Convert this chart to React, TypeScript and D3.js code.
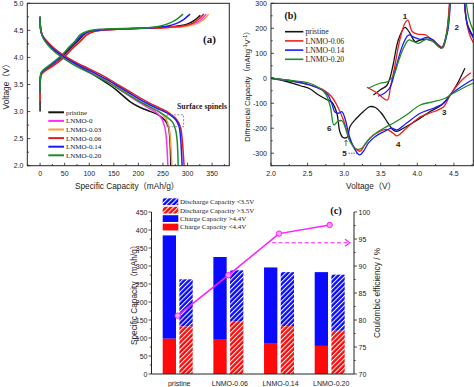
import React from 'react';
import * as d3 from 'd3';

type P = [number, number];

// ---------- Panel (a): voltage profiles ----------
const aNames = ['pristine', 'LNMO-0', 'LNMO-0.03', 'LNMO-0.06', 'LNMO-0.14', 'LNMO-0.20'];
const aColors = ['#141414', '#ff2cff', '#ff9a3c', '#e61e1e', '#1a1aff', '#1f8c2a'];
const chargePristine: P[] = [[0,3.0],[0,3.3],[0.5,3.6],[2,3.69],[8,3.75],[25,3.85],[45,4.0],[65,4.2],[77,4.3],[90,4.42],[105,4.48],[130,4.51],[180,4.53],[240,4.55],[280,4.58],[303,4.63],[316,4.7],[326,4.78]];
const chargeL0: P[] = [[0,3.2],[0.5,3.6],[2,3.68],[8,3.74],[25,3.84],[45,3.98],[66,4.18],[80,4.3],[93,4.42],[107,4.48],[130,4.51],[180,4.53],[250,4.55],[295,4.58],[315,4.63],[328,4.7],[338,4.8]];
const chargeL003: P[] = [[0,3.2],[0.5,3.58],[2,3.67],[8,3.73],[25,3.83],[45,3.97],[67,4.17],[82,4.3],[95,4.42],[110,4.48],[135,4.51],[185,4.53],[255,4.55],[300,4.58],[320,4.63],[333,4.7],[343,4.8]];
const chargeL006: P[] = [[0,3.2],[0.5,3.6],[2,3.68],[8,3.74],[25,3.84],[45,3.97],[66,4.17],[82,4.3],[96,4.42],[110,4.48],[135,4.51],[185,4.53],[250,4.55],[290,4.58],[310,4.63],[322,4.7],[333,4.8]];
const chargeL014: P[] = [[0,3.35],[0.5,3.6],[2,3.7],[8,3.77],[25,3.88],[45,4.03],[62,4.2],[74,4.3],[86,4.42],[100,4.48],[125,4.51],[170,4.53],[230,4.55],[260,4.58],[278,4.63],[292,4.7],[305,4.8]];
const chargeL020: P[] = [[0,3.35],[0.5,3.6],[2,3.72],[8,3.78],[25,3.9],[45,4.05],[60,4.2],[71,4.3],[82,4.42],[95,4.48],[120,4.52],[170,4.535],[220,4.55],[245,4.58],[262,4.63],[277,4.7],[291,4.8]];
const dischPristine: P[] = [[0,4.75],[1.5,4.5],[6,4.38],[15,4.27],[30,4.14],[50,4.0],[75,3.86],[100,3.73],[120,3.62],[140,3.5],[155,3.4],[168,3.3],[185,3.17],[205,3.07],[225,3.0],[242,2.93],[254,2.84],[261,2.72],[264,2.5],[266,2.0]];
const dischL0: P[] = [[0,4.75],[1.5,4.5],[6,4.38],[15,4.27],[30,4.14],[50,4.0],[75,3.87],[100,3.75],[120,3.65],[140,3.54],[160,3.42],[180,3.3],[200,3.18],[220,3.07],[238,2.97],[248,2.86],[254,2.7],[257,2.5],[260,2.0]];
const dischL003: P[] = [[0,4.75],[1.5,4.5],[6,4.38],[15,4.27],[30,4.14],[50,4.0],[75,3.87],[100,3.76],[120,3.66],[140,3.56],[160,3.44],[180,3.32],[200,3.2],[222,3.09],[242,3.0],[255,2.88],[262,2.72],[265,2.5],[268,2.0]];
const dischL006: P[] = [[0,4.75],[1.5,4.5],[6,4.39],[15,4.29],[30,4.16],[50,4.03],[75,3.9],[100,3.79],[120,3.7],[140,3.6],[160,3.49],[180,3.38],[200,3.27],[222,3.16],[245,3.06],[265,2.96],[279,2.84],[286,2.7],[289,2.5],[293,2.0]];
const dischL014: P[] = [[0,4.75],[1.5,4.5],[6,4.37],[15,4.26],[30,4.13],[50,4.0],[75,3.87],[100,3.76],[120,3.67],[140,3.57],[160,3.46],[180,3.35],[200,3.24],[222,3.13],[245,3.03],[263,2.95],[276,2.85],[283,2.72],[286,2.5],[289,2.0]];
const dischL020: P[] = [[0,4.75],[1.5,4.5],[6,4.36],[15,4.24],[30,4.1],[50,3.97],[75,3.83],[100,3.72],[120,3.63],[140,3.53],[160,3.42],[180,3.31],[200,3.2],[222,3.09],[243,2.99],[258,2.9],[270,2.8],[276,2.65],[279,2.45],[281,2.0]];
const aCharge = [chargePristine, chargeL0, chargeL003, chargeL006, chargeL014, chargeL020];
const aDisch = [dischPristine, dischL0, dischL003, dischL006, dischL014, dischL020];
const aXTicks = [0, 50, 100, 150, 200, 250, 300, 350];
const aYTicks = [2.0, 2.5, 3.0, 3.5, 4.0, 4.5, 5.0];

// ---------- Panel (b): dQ/dV ----------
const bNames = ['pristine', 'LNMO-0.06', 'LNMO-0.14', 'LNMO-0.20'];
const bColors = ['#141414', '#f01e1e', '#1a1aff', '#1f8c2a'];
const dqdvDisPristine: P[] = [[2.0,0],[2.2,-12],[2.4,-30],[2.53,-42],[2.64,-65],[2.76,-85],[2.83,-95],[2.9,-140],[2.94,-213],[2.98,-236],[3.04,-236],[3.08,-193],[3.17,-160],[3.26,-134],[3.35,-114],[3.42,-116],[3.51,-140],[3.6,-180],[3.67,-207],[3.72,-213],[3.81,-200],[4.0,-167],[4.17,-134],[4.33,-107],[4.45,-67],[4.55,-20],[4.65,40]];
const dqdvDis006: P[] = [[2.0,0],[2.3,-12],[2.53,-27],[2.72,-47],[2.83,-74],[2.91,-113],[2.99,-167],[3.08,-247],[3.15,-280],[3.22,-292],[3.28,-267],[3.35,-240],[3.44,-220],[3.58,-205],[3.67,-220],[3.72,-231],[3.85,-200],[4.04,-154],[4.22,-134],[4.36,-114],[4.45,-67],[4.6,-10],[4.73,22]];
const dqdvDis014: P[] = [[2.0,0],[2.3,-12],[2.53,-27],[2.76,-60],[2.83,-100],[2.87,-134],[2.92,-140],[2.97,-134],[3.01,-160],[3.08,-240],[3.15,-287],[3.21,-307],[3.26,-294],[3.33,-260],[3.42,-234],[3.54,-214],[3.65,-200],[3.72,-207],[3.85,-180],[4.04,-140],[4.22,-120],[4.36,-100],[4.45,-67],[4.62,-30],[4.76,-5]];
const dqdvDis020: P[] = [[2.0,0],[2.3,-10],[2.53,-20],[2.74,-60],[2.81,-113],[2.86,-187],[2.91,-173],[2.97,-170],[3.01,-193],[3.08,-254],[3.17,-284],[3.24,-280],[3.31,-254],[3.4,-227],[3.54,-200],[3.67,-180],[3.85,-147],[4.04,-107],[4.22,-94],[4.38,-80],[4.45,-67],[4.62,-40],[4.76,-20]];
const dqdvChgPristine: P[] = [[3.4,-67],[3.5,-45],[3.58,-30],[3.62,-5],[3.67,55],[3.74,153],[3.83,204],[3.9,180],[3.97,147],[4.04,153],[4.13,156],[4.22,147],[4.33,122],[4.4,180],[4.45,330],[4.52,600],[4.58,640],[4.63,360],[4.68,220],[4.77,164]];
const dqdvChg006: P[] = [[3.31,-36],[3.44,-57],[3.59,-87],[3.63,-40],[3.69,46],[3.76,153],[3.83,220],[3.87,233],[3.93,187],[4.0,177],[4.12,173],[4.17,160],[4.29,133],[4.35,122],[4.4,180],[4.45,340],[4.52,620],[4.58,650],[4.63,370],[4.67,233],[4.72,170],[4.77,140]];
const dqdvChg014: P[] = [[3.46,-72],[3.55,-60],[3.62,-40],[3.67,0],[3.71,46],[3.81,140],[3.88,173],[3.95,165],[4.04,156],[4.13,164],[4.22,153],[4.33,122],[4.41,180],[4.46,340],[4.52,600],[4.58,640],[4.63,370],[4.69,206],[4.77,160]];
const dqdvChg020: P[] = [[3.33,-40],[3.49,-20],[3.6,-13],[3.68,13],[3.74,66],[3.81,120],[3.88,153],[3.95,147],[4.02,140],[4.12,156],[4.2,150],[4.33,120],[4.41,193],[4.46,360],[4.52,620],[4.58,660],[4.64,380],[4.7,246],[4.77,187]];
const bDis = [dqdvDisPristine, dqdvDis006, dqdvDis014, dqdvDis020];
const bChg = [dqdvChgPristine, dqdvChg006, dqdvChg014, dqdvChg020];
const bXTicks = [2.0, 2.5, 3.0, 3.5, 4.0, 4.5];
const bYTicks = [-300, -200, -100, 0, 100, 200, 300];

// ---------- Panel (c): capacities & efficiency ----------
const cCategories = ['pristine', 'LNMO-0.06', 'LNMO-0.14', 'LNMO-0.20'];
const chargeBelow44 = [98, 95, 84, 78];
const chargeTotal = [385, 325, 296, 283];
const dischargeAbove35 = [132, 147, 133, 120];
const dischargeTotal = [263, 288, 283, 276];
const coulombicEff = [80.8, 88.3, 96.0, 97.6];
const cYTicks = [0, 50, 100, 150, 200, 250, 300, 350, 400, 450];
const cY2Ticks = [70, 75, 80, 85, 90, 95, 100];
const cLegend = ['Discharge Capacity <3.5V', 'Discharge Capacity >3.5V', 'Charge Capacity >4.4V', 'Charge Capacity <4.4V'];

const SANS = "'Liberation Sans', Arial, 'Noto Sans CJK SC', sans-serif";
const SERIF = "'Liberation Serif', 'Times New Roman', serif";
const BLUE = '#0a0aff';
const RED = '#ff0a0a';
const MAG = '#ff1eff';

export default function App() {
  // frames
  const A = { l: 27.3, r: 229.3, t: 3.3, b: 165.7 };
  const B = { l: 271, r: 473.3, t: 3.3, b: 165.7 };
  const C = { l: 151.5, r: 354, t: 212, b: 374 };

  const ax = d3.scaleLinear().domain([-26, 385]).range([A.l, A.r]);
  const ay = d3.scaleLinear().domain([2, 5]).range([A.b, A.t]);
  const bx = d3.scaleLinear().domain([2, 4.765]).range([B.l, B.r]);
  const by = d3.scaleLinear().domain([-350, 300]).range([B.b, B.t]);
  const cx = d3.scalePoint<string>().domain(cCategories).range([177.7, 329.7]);
  const cy = d3.scaleLinear().domain([0, 450]).range([C.b, C.t]);
  const cy2 = d3.scaleLinear().domain([70, 100]).range([C.b, C.t]);

  const aLine = d3.line<P>().x(d => ax(d[0])).y(d => ay(d[1])).curve(d3.curveCatmullRom.alpha(0.5));
  const bLine = d3.line<P>().x(d => bx(d[0])).y(d => by(d[1])).curve(d3.curveCatmullRom.alpha(0.5));
  const effLine = d3.line<number>().x((_, i) => cx(cCategories[i]) as number).y(d => cy2(d));

  const aMinorX = d3.range(-25, 386, 25);
  const aMinorY = d3.range(2, 5.01, 0.25);
  const bMinorX = d3.range(2, 4.76, 0.25);
  const bMinorY = d3.range(-350, 301, 50);
  const cMinorY = d3.range(0, 451, 25);
  const cMinorY2 = d3.range(70, 100.1, 2.5);

  const tickFont = { fontFamily: SANS, fontSize: 7, fill: '#222' };
  const titleFont = { fontFamily: SANS, fontSize: 8.3, fill: '#222' };

  const barW = 13.3;

  return (
    <svg width={474} height={387} style={{ position: 'absolute', left: 0, top: 0, background: '#fff' }}>
      <defs>
        <clipPath id="clipA"><rect x={A.l} y={A.t} width={A.r - A.l} height={A.b - A.t} /></clipPath>
        <clipPath id="clipB"><rect x={B.l} y={B.t} width={B.r - B.l} height={B.b - B.t} /></clipPath>
        <pattern id="hatchBlue" patternUnits="userSpaceOnUse" width={3.4} height={3.4} patternTransform="rotate(45)">
          <rect width={3.4} height={3.4} fill={BLUE} />
          <line x1={0.5} y1={0} x2={0.5} y2={3.4} stroke="#fff" strokeWidth={1} />
        </pattern>
        <pattern id="hatchRed" patternUnits="userSpaceOnUse" width={3.4} height={3.4} patternTransform="rotate(45)">
          <rect width={3.4} height={3.4} fill={RED} />
          <line x1={0.5} y1={0} x2={0.5} y2={3.4} stroke="#fff" strokeWidth={1} />
        </pattern>
      </defs>

      {/* ================= Panel (a) ================= */}
      <g>
        <g clipPath="url(#clipA)">
          {aCharge.map((s, i) => (
            <path key={'ac' + i} d={aLine(s) || ''} fill="none" stroke={aColors[i]} strokeWidth={1.5} />
          ))}
          {aDisch.map((s, i) => (
            <path key={'ad' + i} d={aLine(s) || ''} fill="none" stroke={aColors[i]} strokeWidth={1.5} />
          ))}
        </g>
        {/* dashed box */}
        <rect x={ax(258)} y={ay(2.94)} width={ax(292) - ax(258)} height={ay(2.72) - ay(2.94)} fill="none" stroke="#6f6f9f" strokeWidth={0.8} strokeDasharray="2,1.5" />
        <text x={177} y={109.3} textAnchor="start" style={{ fontFamily: SERIF, fontSize: 7.8, fontWeight: 'bold', fill: '#222' }}>Surface spinels</text>
        <rect x={A.l} y={A.t} width={A.r - A.l} height={A.b - A.t} fill="none" stroke="#222" strokeWidth={1} />
        {aMinorX.map(v => <line key={'amx' + v} x1={ax(v)} x2={ax(v)} y1={A.b} y2={A.b - (v % 50 === 0 ? 3 : 1.7)} stroke="#222" strokeWidth={0.8} />)}
        {aMinorY.map(v => <line key={'amy' + v} x1={A.l} x2={A.l + (Math.abs((v * 2) % 1) < 1e-6 ? 3 : 1.7)} y1={ay(v)} y2={ay(v)} stroke="#222" strokeWidth={0.8} />)}
        {aXTicks.map(v => <text key={'axt' + v} x={ax(v)} y={175.5} textAnchor="middle" style={tickFont}>{v}</text>)}
        {aYTicks.map(v => <text key={'ayt' + v} x={23.5} y={ay(v) + 2.5} textAnchor="end" style={tickFont}>{v.toFixed(1)}</text>)}
        <text x={127} y={188.5} textAnchor="middle" style={titleFont}>Specific Capacity（mAh/g）</text>
        <text transform={`translate(8.5,${(A.t + A.b) / 2}) rotate(-90)`} textAnchor="middle" style={titleFont}>Voltage（V）</text>
        <text x={209.5} y={42.5} textAnchor="middle" style={{ fontFamily: SERIF, fontSize: 11, fontWeight: 'bold', fill: '#111' }}>(a)</text>
        {aNames.map((n, i) => {
          const yy = 112.3 + i * 8.6;
          return (
            <g key={'al' + i}>
              <line x1={48.3} x2={64} y1={yy} y2={yy} stroke={aColors[i]} strokeWidth={2} />
              <text x={66} y={yy + 2.4} style={{ fontFamily: SERIF, fontSize: 7, fill: '#222' }}>{n}</text>
            </g>
          );
        })}
      </g>

      {/* ================= Panel (b) ================= */}
      <g>
        <g clipPath="url(#clipB)">
          {bDis.map((s, i) => (
            <path key={'bd' + i} d={bLine(s) || ''} fill="none" stroke={bColors[i]} strokeWidth={1.3} />
          ))}
          {bChg.map((s, i) => (
            <path key={'bc' + i} d={bLine(s) || ''} fill="none" stroke={bColors[i]} strokeWidth={1.3} />
          ))}
        </g>
        <rect x={B.l} y={B.t} width={B.r - B.l} height={B.b - B.t} fill="none" stroke="#222" strokeWidth={1} />
        {bMinorX.map(v => <line key={'bmx' + v} x1={bx(v)} x2={bx(v)} y1={B.b} y2={B.b - (Math.abs((v * 2) % 1) < 1e-6 ? 3 : 1.7)} stroke="#222" strokeWidth={0.8} />)}
        {bMinorY.map(v => <line key={'bmy' + v} x1={B.l} x2={B.l + (v % 100 === 0 ? 3 : 1.7)} y1={by(v)} y2={by(v)} stroke="#222" strokeWidth={0.8} />)}
        {bXTicks.map(v => <text key={'bxt' + v} x={bx(v)} y={175.5} textAnchor="middle" style={tickFont}>{v.toFixed(1)}</text>)}
        {bYTicks.map(v => <text key={'byt' + v} x={267} y={by(v) + 2.5} textAnchor="end" style={tickFont}>{v}</text>)}
        <text x={371} y={188.5} textAnchor="middle" style={titleFont}>Voltage（V）</text>
        <text transform={`translate(249.5,${(B.t + B.b) / 2}) rotate(-90)`} textAnchor="middle" style={{ ...titleFont, fontSize: 7.6 }}>
          Diffrencial Capacity（mAhg<tspan dy={-3} fontSize={5}>-1</tspan><tspan dy={3}>V</tspan><tspan dy={-3} fontSize={5}>-1</tspan><tspan dy={3}>）</tspan>
        </text>
        <text x={290.5} y={18.5} textAnchor="middle" style={{ fontFamily: SERIF, fontSize: 10, fontWeight: 'bold', fill: '#111' }}>(b)</text>
        {bNames.map((n, i) => {
          const yy = 31.7 + i * 9.2;
          return (
            <g key={'bl' + i}>
              <line x1={285} x2={303.3} y1={yy} y2={yy} stroke={bColors[i]} strokeWidth={1.6} />
              <text x={305.5} y={yy + 2.6} style={{ fontFamily: SERIF, fontSize: 7.7, fill: '#222' }}>{n}</text>
            </g>
          );
        })}
        {/* peak labels */}
        {[
          ['1', 405, 18.5], ['2', 456.7, 30], ['3', 444.3, 115], ['4', 398.3, 146.7], ['5', 344.5, 156], ['6', 329.3, 130.5],
        ].map(([t, x, y]) => (
          <text key={'pk' + t} x={x as number} y={y as number} textAnchor="middle" style={{ fontFamily: SANS, fontSize: 8, fontWeight: 'bold', fill: '#222' }}>{t}</text>
        ))}
        <line x1={346} x2={346} y1={146} y2={140.5} stroke="#333" strokeWidth={0.7} />
        <path d="M344.6,142 L346,140 L347.4,142" fill="none" stroke="#333" strokeWidth={0.7} />
        <line x1={348.5} x2={357} y1={153.2} y2={153.2} stroke="#333" strokeWidth={0.7} strokeDasharray="1.5,1" />
      </g>

      {/* ================= Panel (c) ================= */}
      <g>
        {cCategories.map((c, i) => {
          const xc = cx(c) as number;
          return (
            <g key={'bar' + i}>
              <rect x={xc - 15} y={cy(chargeTotal[i])} width={barW} height={cy(chargeBelow44[i]) - cy(chargeTotal[i])} fill={BLUE} />
              <rect x={xc - 15} y={cy(chargeBelow44[i])} width={barW} height={cy(0) - cy(chargeBelow44[i])} fill={RED} />
              <rect x={xc + 1.7} y={cy(dischargeTotal[i])} width={barW} height={cy(dischargeAbove35[i]) - cy(dischargeTotal[i])} fill="url(#hatchBlue)" />
              <rect x={xc + 1.7} y={cy(dischargeAbove35[i])} width={barW} height={cy(0) - cy(dischargeAbove35[i])} fill="url(#hatchRed)" />
            </g>
          );
        })}
        <path d={effLine(coulombicEff) || ''} fill="none" stroke={MAG} strokeWidth={1.5} />
        {coulombicEff.map((v, i) => (
          <circle key={'ce' + i} cx={cx(cCategories[i]) as number} cy={cy2(v)} r={2.7} fill="#ff9cff" stroke={MAG} strokeWidth={1} />
        ))}
        {/* dashed arrow toward right axis */}
        <line x1={(cx('LNMO-0.14') as number) - 7} x2={C.r - 4} y1={cy2(94.3)} y2={cy2(94.3)} stroke={MAG} strokeWidth={1.1} strokeDasharray="4,2.5" />
        <path d={`M${C.r - 9},${cy2(94.3) - 3.5} L${C.r - 4},${cy2(94.3)} L${C.r - 9},${cy2(94.3) + 3.5}`} fill="none" stroke={MAG} strokeWidth={1.1} />
        {/* axes */}
        <line x1={C.l} x2={C.l} y1={C.t} y2={C.b} stroke="#222" strokeWidth={1} />
        <line x1={C.r} x2={C.r} y1={C.t} y2={C.b} stroke="#222" strokeWidth={1} />
        <line x1={C.l} x2={C.r} y1={C.b} y2={C.b} stroke="#222" strokeWidth={1} />
        {cMinorY.map(v => <line key={'cmy' + v} x1={C.l} x2={C.l - (v % 50 === 0 ? 3 : 1.7)} y1={cy(v)} y2={cy(v)} stroke="#222" strokeWidth={0.8} />)}
        {cMinorY2.map(v => <line key={'cmy2' + v} x1={C.r} x2={C.r + (v % 5 === 0 ? 3 : 1.7)} y1={cy2(v)} y2={cy2(v)} stroke="#222" strokeWidth={0.8} />)}
        {cYTicks.map(v => <text key={'cyt' + v} x={147.5} y={cy(v) + 2.5} textAnchor="end" style={tickFont}>{v}</text>)}
        {cY2Ticks.map(v => <text key={'cyt2' + v} x={358.5} y={cy2(v) + 2.5} textAnchor="start" style={tickFont}>{v}</text>)}
        {cCategories.map(c => <text key={'cxl' + c} x={(cx(c) as number) + 1.5} y={385.5} textAnchor="middle" style={tickFont}>{c}</text>)}
        <text transform={`translate(136.5,${(C.t + C.b) / 2}) rotate(-90)`} textAnchor="middle" style={titleFont}>Specific Capacity（mAh/g）</text>
        <text transform={`translate(380,${(C.t + C.b) / 2}) rotate(-90)`} textAnchor="middle" style={titleFont}>Coulombic efficiency / %</text>
        <text x={336} y={213.5} textAnchor="middle" style={{ fontFamily: SERIF, fontSize: 10.5, fontWeight: 'bold', fill: '#111' }}>(c)</text>
        {cLegend.map((t, i) => {
          const yy = 201.7 + i * 8.45;
          const fills = ['url(#hatchBlue)', 'url(#hatchRed)', BLUE, RED];
          return (
            <g key={'cl' + i}>
              <rect x={162.7} y={yy - 3.4} width={15.6} height={6.8} fill={fills[i]} />
              <text x={180} y={yy + 2.4} style={{ fontFamily: SERIF, fontSize: 7, fill: '#222' }}>{t}</text>
            </g>
          );
        })}
      </g>
    </svg>
  );
}
